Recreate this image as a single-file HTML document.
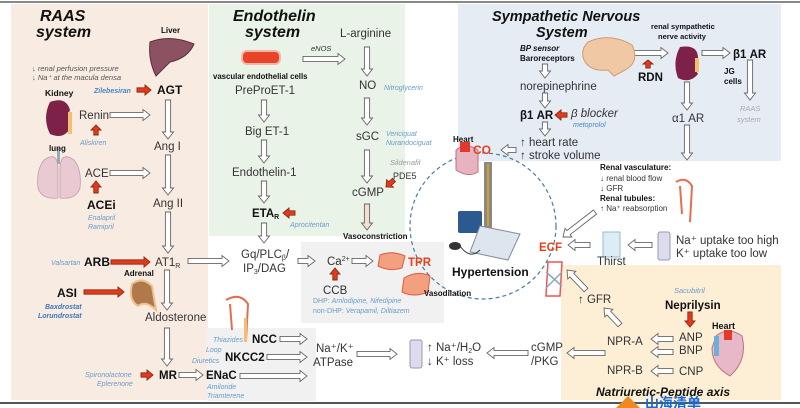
<!DOCTYPE html>
<html><head><meta charset="utf-8"><style>
html,body{margin:0;padding:0;background:#fff;}
svg{display:block;font-family:"Liberation Sans",Arial,sans-serif;}
.t{font-size:11.5px;fill:#333;}
.b{font-weight:bold;fill:#111;}
.h{font-size:16px;font-weight:bold;font-style:italic;fill:#111;}
.s{font-size:7px;font-style:italic;fill:#6a9cc9;}
.g{font-size:7.5px;font-style:italic;fill:#555;}
.sb{font-size:8px;font-weight:bold;fill:#111;}
.r{fill:#e8401c;font-weight:bold;}
</style></head><body>
<svg id="sv" width="800" height="408" viewBox="0 0 800 408" xmlns="http://www.w3.org/2000/svg">
<rect x="0" y="0" width="800" height="408" fill="#fff"/>
<line x1="0" y1="2" x2="800" y2="2" stroke="#888" stroke-width="2"/>
<!-- panels -->
<rect x="11" y="4" width="197" height="396" fill="#f8ebe2"/>
<rect x="209" y="4" width="196" height="232" fill="#eaf3e8"/>
<rect x="458" y="4" width="323" height="157" fill="#e5ecf4"/>
<rect x="301" y="242" width="143" height="81" fill="#f1f1f1"/>
<rect x="207" y="328" width="109" height="73" fill="#f1f1f1"/>
<rect x="561" y="265" width="220" height="135" fill="#fcefd6"/>
<circle cx="483" cy="226" r="73" fill="none" stroke="#4a7aa6" stroke-width="1.2" stroke-dasharray="4,3"/>
<g id="arrows"></g>
<!-- icons -->
<path d="M150,42 Q170,34 194,44 Q188,58 170,62 Q160,72 156,76 Q148,60 150,42Z" fill="#8d5262" stroke="#5a3040" stroke-width="1"/>
<path d="M50,102 Q66,96 70,110 Q66,118 70,128 Q64,140 50,134 Q42,118 50,102Z" fill="#7d2148"/>
<rect x="68" y="112" width="4" height="22" fill="#f0c070"/>
<path d="M44,160 Q58,150 58,170 L58,198 Q42,200 38,188 Q36,170 44,160Z M74,160 Q60,150 60,170 L60,198 Q76,200 80,188 Q82,170 74,160Z" fill="#e9c9d2" stroke="#c99aa8" stroke-width="0.8"/>
<rect x="57" y="148" width="3" height="16" fill="#9ab"/>
<path d="M132,284 Q142,276 152,286 L156,310 Q146,300 138,306 Q128,300 132,284Z" fill="#b0794a" stroke="#f0c090" stroke-width="2"/>
<rect x="242" y="51" width="38" height="13" rx="5" fill="#e8442a" stroke="#f3b6a8" stroke-width="2"/>
<path d="M588,42 Q610,32 632,45 Q640,62 625,70 L614,76 L608,70 Q590,72 584,60 Q580,50 588,42Z" fill="#f1c8a4" stroke="#d19a70" stroke-width="1"/>
<path d="M680,47 Q698,44 698,58 Q692,66 698,74 Q690,84 678,78 Q672,62 680,47Z" fill="#7d2148"/>
<rect x="695" y="58" width="4" height="14" fill="#f0c070"/>
<path d="M456,150 Q466,142 478,150 L478,172 Q468,178 456,170Z" fill="#e8b3c0" stroke="#c07080"/>
<rect x="460" y="142" width="10" height="10" fill="#e3392a"/>
<!-- hypertension device -->
<rect x="484" y="162" width="8" height="68" fill="#888"/><rect x="487" y="164" width="2" height="62" fill="#d8a020"/>
<rect x="458" y="211" width="24" height="22" rx="2" fill="#2a5a90"/>
<path d="M480,226 L520,234 L508,260 L470,252Z" fill="#dde6ee" stroke="#889"/>
<ellipse cx="455" cy="246" rx="6" ry="4" fill="#333"/>
<path d="M460,246 Q470,260 480,250" stroke="#333" fill="none"/>
<rect x="603" y="232" width="17" height="25" fill="#dbeef6" stroke="#9bc" stroke-width="1"/>
<rect x="658" y="232" width="12" height="28" rx="2" fill="#dcdcee" stroke="#99a"/>
<rect x="410" y="340" width="12" height="28" rx="2" fill="#dcdcee" stroke="#99a"/>
<path d="M548,262 L562,262 L560,296 L546,296Z" fill="none" stroke="#e55" stroke-width="1.5"/>
<path d="M546,272 L562,286 M562,272 L546,288" stroke="#8ab" stroke-width="1.5"/>
<path d="M676,182 Q686,176 692,186 L690,222 M680,186 L682,214" stroke="#e07050" fill="none" stroke-width="2"/>
<path d="M226,300 Q240,292 248,304 L246,340 M230,304 L232,330" stroke="#e07050" fill="none" stroke-width="2"/>
<rect x="244" y="318" width="3" height="24" fill="#f0c070"/>
<path d="M380,255 Q392,250 405,256 L402,268 Q390,272 378,266Z" fill="#f3a080" stroke="#d86040"/>
<path d="M404,278 Q418,270 430,276 L428,292 Q414,298 402,292Z" fill="#f3a080" stroke="#d86040"/>
<path d="M716,336 Q728,326 742,336 Q748,360 730,376 Q712,366 712,348Z" fill="#e6b8c8" stroke="#c07080"/>
<rect x="724" y="330" width="8" height="10" fill="#e3392a"/><rect x="714" y="336" width="5" height="20" fill="#6ab0d8"/>
<!-- texts RAAS -->
<text x="40" y="21" class="h">RAAS</text>
<text x="36" y="37" class="h">system</text>
<text x="161" y="33" class="sb">Liver</text>
<text x="32" y="71" class="g">↓ renal perfusion pressure</text>
<text x="32" y="80" class="g">↓ Na⁺ at the macula densa</text>
<text x="45" y="96" class="sb" style="font-size:8.5px">Kidney</text>
<text x="94" y="93" class="s" style="font-weight:bold;fill:#4a86c6">Zilebesiran</text>
<text x="157" y="94" class="t b" style="font-size:12px">AGT</text>
<text x="79" y="119" class="t">Renin</text>
<text x="80" y="145" class="s">Aliskiren</text>
<text x="49" y="151" class="sb">lung</text>
<text x="154" y="150" class="t">Ang I</text>
<text x="85" y="177" class="t">ACE</text>
<text x="87" y="209" class="t b" style="font-size:12px">ACEi</text>
<text x="153" y="207" class="t">Ang II</text>
<text x="88" y="220" class="s">Enalapril</text>
<text x="88" y="229" class="s">Ramipril</text>
<text x="51" y="265" class="s">Valsartan</text>
<text x="84" y="266" class="t b" style="font-size:12px">ARB</text>
<text x="155" y="266" class="t">AT1<tspan font-size="7" dy="2">R</tspan></text>
<text x="124" y="276" class="sb">Adrenal</text>
<text x="57" y="297" class="t b" style="font-size:12px">ASI</text>
<text x="45" y="309" class="s" style="font-weight:bold;fill:#3a78b8">Baxdrostat</text>
<text x="38" y="318" class="s" style="font-weight:bold;fill:#3a78b8">Lorundrostat</text>
<text x="145" y="321" class="t">Aldosterone</text>
<text x="85" y="377" class="s">Spironolactone</text>
<text x="97" y="386" class="s">Eplerenone</text>
<text x="159" y="379" class="t b">MR</text>
<text x="206" y="379" class="t b">ENaC</text>
<text x="207" y="389" class="s">Amiloride</text>
<text x="207" y="398" class="s">Triamterene</text>
<!-- Endothelin -->
<text x="233" y="21" class="h">Endothelin</text>
<text x="245" y="37" class="h">system</text>
<text x="340" y="37" class="t">L-arginine</text>
<text x="311" y="51" class="g" style="fill:#333">eNOS</text>
<text x="213" y="79" class="sb" style="font-size:7.8px">vascular endothelial cells</text>
<text x="235" y="94" class="t">PreProET-1</text>
<text x="245" y="135" class="t">Big ET-1</text>
<text x="232" y="176" class="t">Endothelin-1</text>
<text x="252" y="217" class="t b">ETA<tspan font-size="7" dy="2">R</tspan></text>
<text x="290" y="227" class="s">Aprocitentan</text>
<text x="241" y="258" class="t">Gq/PLC<tspan font-size="7" dy="2">β</tspan><tspan dy="-2">/</tspan></text>
<text x="243" y="272" class="t">IP<tspan font-size="7" dy="2">3</tspan><tspan dy="-2">/DAG</tspan></text>
<text x="359" y="89" class="t">NO</text>
<text x="384" y="90" class="s">Nitroglycerin</text>
<text x="356" y="140" class="t">sGC</text>
<text x="386" y="136" class="s">Vericiguat</text>
<text x="386" y="145" class="s">Nurandociguat</text>
<text x="390" y="165" class="g" style="fill:#999">Sildenafil</text>
<text x="393" y="179" class="t" style="font-size:9px">PDE5</text>
<text x="352" y="196" class="t">cGMP</text>
<text x="343" y="239" class="sb">Vasoconstriction</text>
<text x="327" y="265" class="t">Ca<tspan font-size="7" dy="-4">2+</tspan></text>
<text x="408" y="266" class="t r">TPR</text>
<text x="424" y="296" class="sb">Vasodilation</text>
<text x="323" y="294" class="t">CCB</text>
<text x="313" y="303" class="s" style="font-style:normal">DHP: <tspan font-style="italic">Amlodipine, Nifedipine</tspan></text>
<text x="313" y="313" class="s" style="font-style:normal">non-DHP: <tspan font-style="italic">Verapamil, Diltiazem</tspan></text>
<!-- NCC -->
<text x="213" y="342" class="s">Thiazides</text>
<text x="252" y="343" class="t b">NCC</text>
<text x="206" y="352" class="s">Loop</text>
<text x="192" y="363" class="s">Diuretics</text>
<text x="225" y="361" class="t b">NKCC2</text>
<text x="316" y="352" class="t">Na⁺/K⁺</text>
<text x="313" y="366" class="t">ATPase</text>
<!-- center -->
<text x="452" y="276" class="t b" style="font-size:12px">Hypertension</text>
<text x="453" y="142" class="sb">Heart</text>
<text x="473" y="154" class="t r" style="font-size:12px">CO</text>
<!-- Sympathetic -->
<text x="492" y="21" class="h" style="font-size:14.5px">Sympathetic Nervous</text>
<text x="536" y="37" class="h" style="font-size:14.5px">System</text>
<text x="520" y="51" class="sb" style="font-style:italic">BP sensor</text>
<text x="520" y="61" class="sb">Baroreceptors</text>
<text x="520" y="90" class="t">norepinephrine</text>
<text x="520" y="119" class="t b">β1 AR</text>
<text x="571" y="117" class="t" style="font-style:italic">β blocker</text>
<text x="573" y="127" class="s" style="fill:#4a86c6">metoprolol</text>
<text x="520" y="146" class="t">↑ heart rate</text>
<text x="520" y="159" class="t">↑ stroke volume</text>
<text x="638" y="81" class="t b">RDN</text>
<text x="651" y="29" class="sb" style="font-size:7.5px">renal sympathetic</text>
<text x="658" y="39" class="sb" style="font-size:7.5px">nerve activity</text>
<text x="733" y="58" class="t b">β1 AR</text>
<text x="724" y="74" class="sb">JG</text>
<text x="724" y="84" class="sb">cells</text>
<text x="740" y="111" class="g" style="fill:#aaa">RAAS</text>
<text x="737" y="122" class="g" style="fill:#aaa">system</text>
<text x="672" y="122" class="t">α1 AR</text>
<text x="600" y="170" class="sb">Renal vasculature:</text>
<text x="600" y="181" class="t" style="font-size:8px">↓ renal blood flow</text>
<text x="600" y="191" class="t" style="font-size:8px">↓ GFR</text>
<text x="600" y="201" class="sb">Renal tubules:</text>
<text x="600" y="211" class="t" style="font-size:8px">↑ Na⁺ reabsorption</text>
<text x="539" y="251" class="t r">ECF</text>
<text x="597" y="265" class="t">Thirst</text>
<text x="676" y="244" class="t">Na⁺ uptake too high</text>
<text x="676" y="257" class="t">K⁺ uptake too low</text>
<!-- NP axis -->
<text x="578" y="303" class="t">↑ GFR</text>
<text x="674" y="293" class="s" style="font-size:7.5px">Sacubitril</text>
<text x="665" y="309" class="t b">Neprilysin</text>
<text x="712" y="329" class="sb" style="font-size:9px">Heart</text>
<text x="679" y="341" class="t">ANP</text>
<text x="679" y="354" class="t">BNP</text>
<text x="679" y="375" class="t">CNP</text>
<text x="607" y="345" class="t">NPR-A</text>
<text x="607" y="374" class="t">NPR-B</text>
<text x="531" y="351" class="t">cGMP</text>
<text x="531" y="365" class="t">/PKG</text>
<text x="427" y="351" class="t">↑ Na⁺/H<tspan font-size="7" dy="2">2</tspan><tspan dy="-2">O</tspan></text>
<text x="427" y="365" class="t">↓ K⁺ loss</text>
<text x="596" y="396" class="h" style="font-size:12px">Natriuretic-Peptide axis</text>
<line x1="0" y1="403" x2="800" y2="403" stroke="#555" stroke-width="2"/>
<path d="M616,408 L628,396 L640,408Z" fill="#f08a20"/>
<text x="645" y="408" style="font-size:14px;font-weight:bold;fill:#1a6ad0;font-family:'Noto Sans CJK SC',sans-serif">山海清单</text>
</svg>
<script>
var g=document.getElementById('arrows'),NS='http://www.w3.org/2000/svg';
function A(x1,y1,x2,y2,red){var dx=x2-x1,dy=y2-y1,L=Math.hypot(dx,dy),ux=dx/L,uy=dy/L,px=-uy,py=ux;
var sw=red?2.2:2.6,hw=red?5:5.5,hl=red?6:7;if(L<14){hl=Math.min(hl,L*0.5);}
var bx=x2-ux*hl,by=y2-uy*hl;
var pts=[[x1+px*sw,y1+py*sw],[bx+px*sw,by+py*sw],[bx+px*hw,by+py*hw],[x2,y2],[bx-px*hw,by-py*hw],[bx-px*sw,by-py*sw],[x1-px*sw,y1-py*sw]];
var p=document.createElementNS(NS,'polygon');p.setAttribute('points',pts.map(function(q){return q[0].toFixed(1)+','+q[1].toFixed(1)}).join(' '));
p.setAttribute('fill',red?'#e43a1c':(red===0?'#f5ddd0':'#fff'));p.setAttribute('stroke',red?'#8a2a10':'#666');p.setAttribute('stroke-width','0.9');g.appendChild(p);}
// RAAS
A(168,100,168,139);A(168,155,168,195);A(168,212,168,253);A(167,270,167,310);A(167,328,167,366);
A(110,115,150,115);A(110,173,150,173);A(179,375,203,375);
A(137,90,151,90,1);A(96,135,96,125,1);A(96,193,96,181,1);A(111,262,150,262,1);A(84,292,124,292,1);A(141,375,153,375,1);
// Endothelin
A(303,59,345,59);A(264,100,264,122);A(264,140,264,163);A(264,181,264,203);A(264,223,264,243);
A(367,47,367,76);A(367,98,367,125);A(367,150,367,183);A(367,204,367,230,0);
A(295,213,283,213,1);A(394,180,386,187,1);
A(188,261,229,261);A(298,261,315,261);A(352,261,373,261);A(335,280,335,268,1);
// NCC
A(280,339,307,339);A(267,357,307,357);A(240,376,307,376);A(357,354,397,354);
// SNS
A(545,64,545,78);A(545,93,545,108);A(545,122,545,136);A(567,115,555,115,1);A(516,150,501,150);
A(627,53,668,53);A(648,68,648,60,1);A(702,53,730,53);A(750,60,750,100);A(687,82,687,110);A(687,125,687,160);
A(595,212,563,237);A(590,245,568,245);A(652,245,628,245);
// NP
A(620,325,604,308);A(586,290,567,270);A(690,312,690,327,1);
A(673,339,651,339);A(673,352,651,352);A(673,371,651,371);A(605,353,567,353);A(528,353,487,353);
</script>
</body></html>
